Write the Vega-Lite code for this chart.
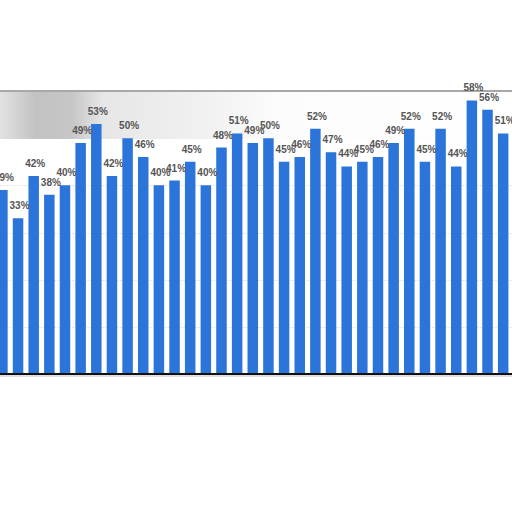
{
  "$schema": "https://vega.github.io/schema/vega-lite/v6.json",
  "width": 512,
  "height": 283,
  "autosize": {"type": "none"},
  "padding": {"top": 91, "left": 0, "right": 0, "bottom": 138},
  "background": "white",
  "data": {
    "values": [
      {"i": 1, "share": 0.39}, {"i": 2, "share": 0.33}, {"i": 3, "share": 0.42},
      {"i": 4, "share": 0.38}, {"i": 5, "share": 0.40}, {"i": 6, "share": 0.49},
      {"i": 7, "share": 0.53}, {"i": 8, "share": 0.42}, {"i": 9, "share": 0.50},
      {"i": 10, "share": 0.46}, {"i": 11, "share": 0.40}, {"i": 12, "share": 0.41},
      {"i": 13, "share": 0.45}, {"i": 14, "share": 0.40}, {"i": 15, "share": 0.48},
      {"i": 16, "share": 0.51}, {"i": 17, "share": 0.49}, {"i": 18, "share": 0.50},
      {"i": 19, "share": 0.45}, {"i": 20, "share": 0.46}, {"i": 21, "share": 0.52},
      {"i": 22, "share": 0.47}, {"i": 23, "share": 0.44}, {"i": 24, "share": 0.45},
      {"i": 25, "share": 0.46}, {"i": 26, "share": 0.49}, {"i": 27, "share": 0.52},
      {"i": 28, "share": 0.45}, {"i": 29, "share": 0.52}, {"i": 30, "share": 0.44},
      {"i": 31, "share": 0.58}, {"i": 32, "share": 0.56}, {"i": 33, "share": 0.51}
    ]
  },
  "encoding": {
    "x": {"field": "i", "type": "quantitative", "axis": null,
          "scale": {"domain": [0.8467, 33.564], "nice": false, "zero": false, "padding": 0}},
    "y": {"field": "share", "type": "quantitative",
          "scale": {"domain": [0, 0.6], "nice": false},
          "axis": {"values": [0.1, 0.2, 0.3, 0.4, 0.5], "grid": true, "gridColor": "#cfcfcf",
                   "gridDash": [1, 2], "domain": false, "ticks": false, "labels": false, "title": null}}
  },
  "layer": [
    {
      "mark": {"type": "rect",
               "color": {"gradient": "linear", "x1": 0, "x2": 1, "y1": 0, "y2": 0,
                         "stops": [
                           {"offset": 0, "color": "#e2e2e2"},
                           {"offset": 0.07, "color": "#c2c2c2"},
                           {"offset": 0.14, "color": "#c6c6c6"},
                           {"offset": 0.2, "color": "#e6e6e6"},
                           {"offset": 0.4, "color": "#f1f1f1"},
                           {"offset": 0.55, "color": "#fcfcfc"},
                           {"offset": 1, "color": "#ffffff"}]}},
      "encoding": {
        "x": {"datum": 0.8467, "type": "quantitative"},
        "x2": {"datum": 33.564},
        "y": {"datum": 0.5, "type": "quantitative"},
        "y2": {"datum": 0.6}
      }
    },
    {
      "mark": {"type": "bar", "width": 10.5, "color": "#2b74da"}
    },
    {
      "mark": {"type": "rule", "color": "#a8a8a8", "strokeWidth": 1.5},
      "encoding": {"y": {"datum": 0.6, "type": "quantitative"}, "x": null}
    },
    {
      "mark": {"type": "rule", "color": "#e0e0e0", "strokeWidth": 2, "yOffset": 2},
      "encoding": {"y": {"datum": 0, "type": "quantitative"}, "x": null}
    },
    {
      "mark": {"type": "rule", "color": "#111111", "strokeWidth": 1.5},
      "encoding": {"y": {"datum": 0, "type": "quantitative"}, "x": null}
    },
    {
      "mark": {"type": "text", "font": "Liberation Sans", "fontWeight": "bold", "fontSize": 10,
               "color": "#555555", "baseline": "alphabetic", "dy": -9, "dx": 1.5},
      "encoding": {
        "text": {"field": "share", "type": "quantitative", "format": ".0%"}
      }
    }
  ],
  "config": {"view": {"stroke": null}}
}
